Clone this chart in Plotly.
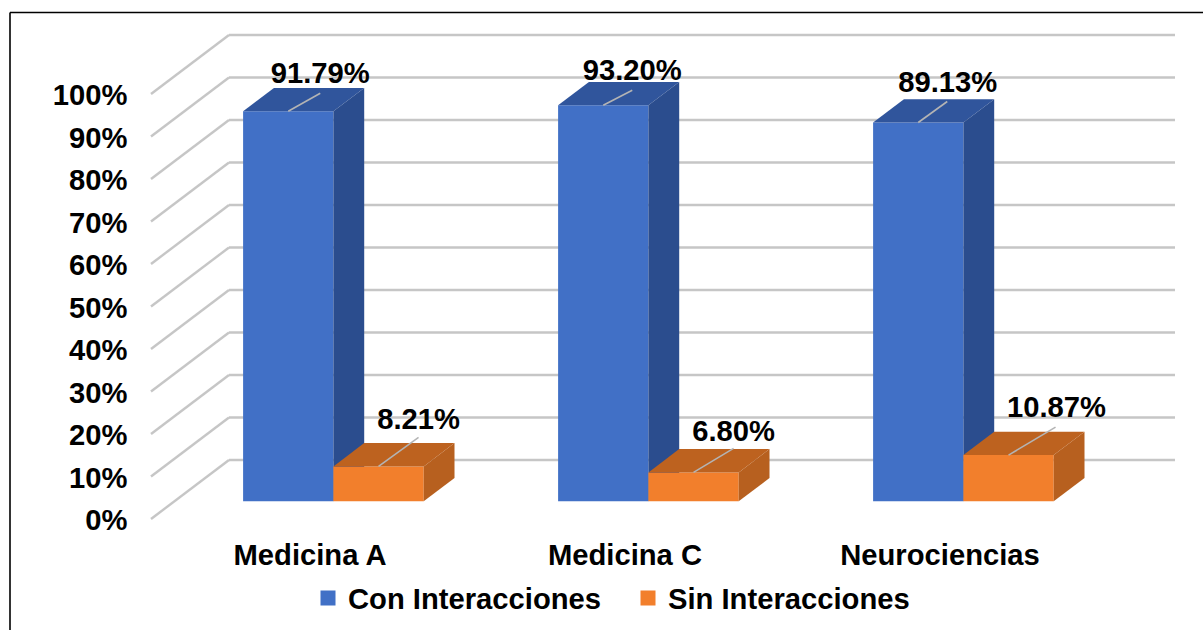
import plotly.graph_objects as go

# Chart values
categories = ["Medicina A", "Medicina C", "Neurociencias"]
con_interacciones = [91.79, 93.20, 89.13]
sin_interacciones = [8.21, 6.80, 10.87]
y_ticks = [0, 10, 20, 30, 40, 50, 60, 70, 80, 90, 100]
y_tick_labels = ["0%", "10%", "20%", "30%", "40%", "50%", "60%", "70%", "80%", "90%", "100%"]

# Canvas and scale of the axes
W, H = 1203, 630
PX_PER_CAT = 315.0
PX_PER_PCT = 4.25
X0_PX = 310.0
Y0_PX = 519.0

# Oblique projection: depth 0 is the front of the floor, depth 1 the back wall
DEPTH_X = 78.0 / PX_PER_CAT
DEPTH_Y = 59.0 / PX_PER_PCT
BAR_FRONT = 0.30
BAR_BACK = 0.695
BAR_W = 90.3 / PX_PER_CAT
WALL_END = (1175.0 - X0_PX) / PX_PER_CAT
WALL_START = (151.0 - X0_PX) / PX_PER_CAT

FONT = "Liberation Sans, Arial, sans-serif"
TEXT_SIZE = 29.2
BLUE = ("#4170c6", "#2b4d8e", "#30559c")
ORANGE = ("#f27f2c", "#b7601f", "#bd621f")
GRID = "#c6c6c6"
LEADER = "#b4b4b4"

# Tick labels sit a little below their gridline ends
TICK_LABEL_DROP_PX = 0.8

# Label and leader placement in pixels, relative to the middle of each bar's top front edge
blue_label = [(32, -35), (29, -32), (29.5, -38)]
blue_leader = [(32, -18), (29, -15), (29, -21)]
orange_label = [(40, -45), (40, -39), (48, -45)]
orange_leader = [(40, -29), (40, -24), (47, -28)]


def px_dx(p):
    return p / PX_PER_CAT


def px_dy(p):
    return -p / PX_PER_PCT


def project(x, y, depth):
    return x + DEPTH_X * depth, y + DEPTH_Y * depth


def face(corners):
    pts = [project(*c) for c in corners]
    xs = [p[0] for p in pts] + [pts[0][0]]
    ys = [p[1] for p in pts] + [pts[0][1]]
    return xs, ys


def add_bar(fig, values, side, colors, name, xa, ya):
    xc = [i + side * BAR_W / 2 + DEPTH_X * BAR_FRONT for i in range(len(values))]
    fig.add_trace(go.Bar(
        x=xc, y=values, base=[DEPTH_Y * BAR_FRONT] * len(values), width=BAR_W,
        marker=dict(color=colors[0], line=dict(width=0)),
        name=name, showlegend=False, xaxis=xa, yaxis=ya, hoverinfo="skip",
    ))
    for i, v in enumerate(values):
        left = i + (-BAR_W if side < 0 else 0)
        right = left + BAR_W
        tx, ty = face([(left, v, BAR_FRONT), (right, v, BAR_FRONT),
                       (right, v, BAR_BACK), (left, v, BAR_BACK)])
        fig.add_trace(go.Scatter(x=tx, y=ty, mode="lines", fill="toself", fillcolor=colors[2],
                                 line=dict(width=0), showlegend=False, hoverinfo="skip",
                                 xaxis=xa, yaxis=ya))
        sx, sy = face([(right, 0, BAR_FRONT), (right, v, BAR_FRONT),
                       (right, v, BAR_BACK), (right, 0, BAR_BACK)])
        fig.add_trace(go.Scatter(x=sx, y=sy, mode="lines", fill="toself", fillcolor=colors[1],
                                 line=dict(width=0), showlegend=False, hoverinfo="skip",
                                 xaxis=xa, yaxis=ya))


def add_labels(fig, values, side, label_off, leader_off):
    for i, v in enumerate(values):
        cx, cy = project(i + side * BAR_W / 2, v, BAR_FRONT)
        lx, ly = leader_off[i]
        fig.add_trace(go.Scatter(x=[cx, cx + px_dx(lx)], y=[cy, cy + px_dy(ly)], mode="lines",
                                 line=dict(color=LEADER, width=1.6), showlegend=False,
                                 hoverinfo="skip", xaxis="x2", yaxis="y2"))
        tx, ty = label_off[i]
        fig.add_trace(go.Scatter(x=[cx + px_dx(tx)], y=[cy + px_dy(ty)], mode="text",
                                 text=[f"{v:.2f}%"], textposition="middle center",
                                 textfont=dict(family=FONT, size=TEXT_SIZE, color="#000000",
                                               weight="bold"),
                                 showlegend=False, hoverinfo="skip", xaxis="x2", yaxis="y2"))


fig = go.Figure()

# Blue columns sit on the base axes, orange ones on an overlay so they paint in front
add_bar(fig, con_interacciones, -1, BLUE, "Con Interacciones", "x", "y")
add_bar(fig, sin_interacciones, 1, ORANGE, "Sin Interacciones", "x2", "y2")
add_labels(fig, con_interacciones, -1, blue_label, blue_leader)
add_labels(fig, sin_interacciones, 1, orange_label, orange_leader)

# Legend entries
for name, color in (("Con Interacciones", BLUE[0]), ("Sin Interacciones", ORANGE[0])):
    fig.add_trace(go.Scatter(x=[None], y=[None], mode="markers", name=name,
                             marker=dict(symbol="square", size=15, color=color),
                             xaxis="x2", yaxis="y2"))

# Gridlines run along the side wall, then across the back wall
shapes = []
for t in y_ticks:
    bx, by = project(WALL_START, t, 1)
    shapes.append(dict(type="line", xref="x", yref="y", x0=WALL_START, y0=t, x1=bx, y1=by,
                       line=dict(color=GRID, width=2.4), layer="below"))
    shapes.append(dict(type="line", xref="x", yref="y", x0=bx, y0=by, x1=WALL_END, y1=by,
                       line=dict(color=GRID, width=2.6), layer="below"))

# Frame along the top and left edges
shapes.append(dict(type="line", xref="paper", yref="paper", x0=10 / W, x1=1, y0=1 - 12.5 / H,
                   y1=1 - 12.5 / H, line=dict(color="#000000", width=1.6)))
shapes.append(dict(type="line", xref="paper", yref="paper", x0=10 / W, x1=10 / W, y0=0,
                   y1=1 - 12.5 / H, line=dict(color="#000000", width=1.6)))

x_range = [-X0_PX / PX_PER_CAT, (W - X0_PX) / PX_PER_CAT]
y_range = [(Y0_PX - H) / PX_PER_PCT, Y0_PX / PX_PER_PCT]
tick_font = dict(family=FONT, size=TEXT_SIZE, color="#000000", weight="bold")

fig.update_layout(
    width=W, height=H,
    margin=dict(l=0, r=0, t=0, b=0),
    paper_bgcolor="#ffffff", plot_bgcolor="#ffffff",
    barmode="overlay", shapes=shapes, hovermode=False,
    xaxis=dict(range=x_range, domain=[0, 1], anchor="free", position=(H - 535) / H,
               tickmode="array", tickvals=list(range(len(categories))),
               ticktext=categories,
               tickfont=tick_font, ticks="", showgrid=False, zeroline=False, showline=False,
               automargin=False),
    yaxis=dict(range=y_range, domain=[0, 1], anchor="free", position=127.5 / W,
               tickmode="array", tickvals=[t + px_dy(TICK_LABEL_DROP_PX) for t in y_ticks],
               ticktext=y_tick_labels,
               tickfont=tick_font, ticks="", showgrid=False, zeroline=False, showline=False,
               automargin=False),
    xaxis2=dict(range=x_range, overlaying="x", visible=False, anchor="y2"),
    yaxis2=dict(range=y_range, overlaying="y", visible=False, anchor="x2"),
    legend=dict(orientation="h", x=308 / W, xanchor="left", y=1 - 598 / H, yanchor="middle",
                font=tick_font, itemwidth=30, entrywidth=275, entrywidthmode="pixels",
                bgcolor="rgba(0,0,0,0)"),
)

fig.write_html("out.html", config=dict(displayModeBar=False))
